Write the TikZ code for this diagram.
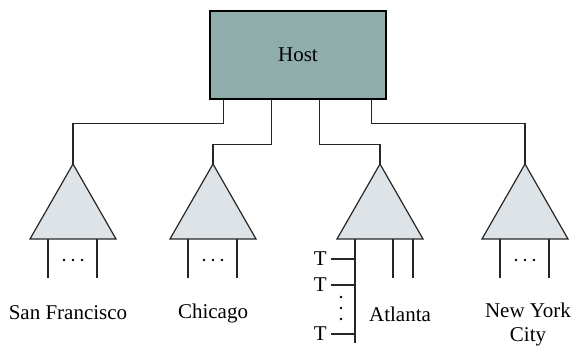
\documentclass[tikz,border=0pt]{standalone}
\usepackage{fontspec}
\setmainfont{Liberation Serif}
\usepackage{tikz}
\usetikzlibrary{positioning}

\definecolor{hostfill}{RGB}{143,173,171}
\definecolor{trifill}{RGB}{221,227,230}

\begin{document}
\begin{tikzpicture}[x=0.5pt, y=-0.5pt, font=\fontsize{10.5}{12}\selectfont]
    \tikzstyle{wire} = [line width=0.6pt, black!85]

    \tikzstyle{hostbox} = [
        rectangle, draw, line width=0.6pt, fill=hostfill,
        minimum width=88pt, minimum height=44pt, inner sep=0pt
    ]

    \tikzstyle{tri} = [wire, fill=trifill, line join=miter]

    \tikzstyle{city} = [align=center, inner sep=0pt]

    \tikzstyle{term} = [anchor=east, inner sep=0pt]

    \useasboundingbox (0,0) rectangle (573,347);

    % Host
    \node[hostbox] (host) at (298,55) {Host};

    % Concentrator apexes
    \coordinate (sf) at (73,164);
    \coordinate (chi) at (213,164);
    \coordinate (atl) at (380,164);
    \coordinate (ny) at (525,164);

    % Lines from the host
    \draw[wire] (host.south west) ++(14,0) -- ++(0,24) -| (sf);
    \draw[wire] (host.south west) ++(62,0) -- ++(0,45) -| (chi);
    \draw[wire] (host.south west) ++(110,0) -- ++(0,45) -| (atl);
    \draw[wire] (host.south west) ++(162,0) -- ++(0,24) -| (ny);

    % Concentrators
    \foreach \c in {sf, chi, atl, ny} {
        \draw[tri] (\c) -- ++(-43,75) -- ++(86,0) -- cycle;
    }

    % Terminal lines: San Francisco, Chicago, New York
    \foreach \c in {sf, chi, ny} {
        \draw[wire] (\c) ++(-25,75) -- ++(0,39);
        \draw[wire] (\c) ++(24,75) -- ++(0,39);
        \foreach \dx in {-9, 0, 9}
            \fill (\c) ++(\dx,96) circle (1.4);
    }

    % Terminal lines: Atlanta
    \draw[wire] (atl) ++(-25,75) coordinate (atlbus) -- ++(0,104) coordinate (atlend);
    \draw[wire] (atl) ++(13,75) -- ++(0,39);
    \draw[wire] (atl) ++(33,75) -- ++(0,39);

    \coordinate (t1) at (atlbus |- 0,259);
    \coordinate (t2) at (atlbus |- 0,285);
    \coordinate (t3) at (atlbus |- 0,334);

    \node[term] (term1) at ([xshift=-14pt]t1) {T};
    \node[term] (term2) at ([xshift=-14pt]t2) {T};
    \node[term] (term3) at ([xshift=-14pt]t3) {T};

    \draw[wire] ([xshift=2pt]term1.east) -- (t1);
    \draw[wire] ([xshift=2pt]term2.east) -- (t2);
    \draw[wire] ([xshift=2pt]term3.east) -- (t3);

    \foreach \dy in {297, 308, 319}
        \fill (341,\dy) circle (1.4);

    % City names
    \node[city] (sf_name) at (68,313) {San Francisco};
    \node[city] (chi_name) at (213,313) {Chicago};
    \node[city] (atl_name) at (400,314) {Atlanta};
    \node[city] (ny_name) at (528,324) {New York\\City};

\end{tikzpicture}
\end{document}
